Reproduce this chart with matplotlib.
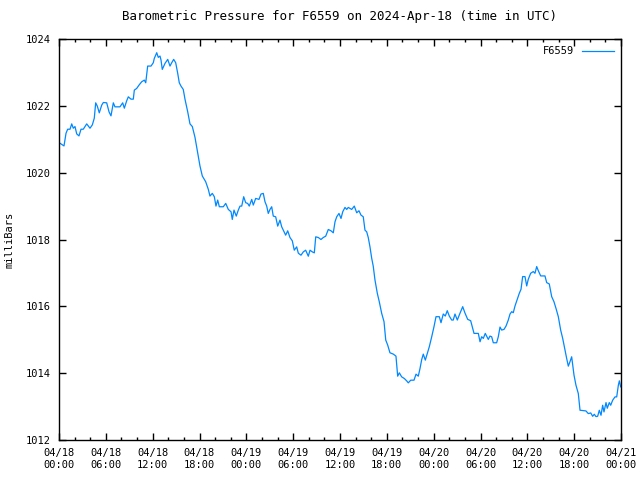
import datetime as dt
import matplotlib
matplotlib.use('Agg')
import matplotlib.pyplot as plt
import matplotlib.dates as mdates

# hours since 2024-04-18 00:00 UTC
hours = [0.13, 0.64, 0.90, 1.11, 1.41, 1.63, 1.83, 2.05, 2.27, 2.56, 2.82, 3.11, 3.55, 3.97,
         4.27, 4.52, 4.70, 4.91, 5.16, 5.47, 5.68, 6.11, 6.41, 6.66, 6.96, 7.17, 7.81, 8.16,
         8.37, 8.67, 8.88, 9.22, 9.52, 9.65, 9.95, 10.25, 10.59, 10.93, 11.11, 11.36, 11.79,
         12.08, 12.21, 12.52, 12.72, 12.94, 13.07, 13.23, 13.58, 13.93, 14.22, 14.44, 14.69,
         14.95, 15.21, 15.41, 15.63, 15.92, 16.14, 16.49, 16.78, 17.08, 17.42, 17.77, 18.06,
         18.36, 18.79, 19.13, 19.34, 19.64, 19.90, 20.11, 20.33, 20.54, 21.05, 21.36, 21.69,
         22.04, 22.20, 22.42, 22.71, 22.97, 23.19, 23.41, 23.66, 23.92, 24.17, 24.38, 24.69,
         24.89, 25.20, 25.62, 25.88, 26.17, 26.39, 26.61, 26.81, 27.03, 27.25, 27.45, 27.76,
         28.02, 28.31, 28.53, 28.74, 29.04, 29.30, 29.59, 29.89, 30.14, 30.45, 30.66, 31.00,
         31.30, 31.60, 31.94, 32.16, 32.45, 32.71, 32.89, 33.22, 33.56, 33.86, 34.17, 34.50,
         34.85, 35.14, 35.36, 35.58, 35.87, 36.13, 36.35, 36.64, 36.86, 37.06, 37.50, 37.83,
         38.14, 38.43, 38.69, 38.98, 39.20, 39.42, 39.62, 39.84, 40.06, 40.26, 40.48, 40.78,
         41.03, 41.34, 41.64, 41.86, 42.11, 42.40, 42.83, 43.17, 43.39, 43.60, 43.90, 44.24,
         44.54, 44.75, 45.06, 45.48, 45.74, 46.03, 46.25, 46.47, 46.67, 46.93, 47.18, 47.44,
         47.75, 48.04, 48.30, 48.72, 48.94, 49.23, 49.49, 49.74, 50.00, 50.31, 50.51, 50.73,
         51.03, 51.28, 51.72, 52.01, 52.36, 52.74, 53.00, 53.17, 53.72, 53.94, 54.15, 54.36,
         54.61, 55.00, 55.21, 55.43, 55.64, 56.07, 56.28, 56.50, 56.71, 57.01, 57.27, 57.56,
         57.78, 58.00, 58.20, 58.42, 58.71, 58.97, 59.19, 59.40, 59.70, 59.92, 60.12, 60.43,
         60.76, 60.98, 61.20, 61.40, 61.71, 62.26, 62.48, 62.81, 63.12, 63.41, 63.67, 63.97,
         64.27, 64.53, 64.82, 65.04, 65.25, 65.46, 65.68, 65.81, 65.98, 66.23, 66.53, 66.75,
         67.51, 67.81, 68.12, 68.37, 68.58, 68.79, 69.01, 69.22, 69.44, 69.65, 69.82, 70.08,
         70.24, 70.50, 70.68, 70.93, 71.23, 71.45, 71.66, 71.79, 71.96]

pressure = [1020.88, 1020.80, 1021.18, 1021.30, 1021.30, 1021.46, 1021.33, 1021.38, 1021.16,
            1021.10, 1021.30, 1021.30, 1021.46, 1021.33, 1021.43, 1021.63, 1022.09, 1021.99,
            1021.79, 1022.02, 1022.10, 1022.09, 1021.82, 1021.70, 1022.09, 1021.97, 1021.97,
            1022.09, 1021.93, 1022.15, 1022.27, 1022.20, 1022.20, 1022.47, 1022.52, 1022.62,
            1022.72, 1022.77, 1022.69, 1023.19, 1023.19, 1023.29, 1023.42, 1023.59, 1023.45,
            1023.49, 1023.37, 1023.09, 1023.27, 1023.39, 1023.19, 1023.29, 1023.39, 1023.29,
            1022.97, 1022.69, 1022.59, 1022.49, 1022.20, 1021.82, 1021.46, 1021.38, 1021.06,
            1020.58, 1020.20, 1019.90, 1019.73, 1019.50, 1019.30, 1019.38, 1019.28, 1019.00,
            1019.18, 1018.98, 1018.98, 1019.08, 1018.90, 1018.83, 1018.60, 1018.88, 1018.70,
            1018.88, 1019.00, 1019.00, 1019.28, 1019.10, 1019.08, 1019.00, 1019.20, 1019.03,
            1019.23, 1019.20, 1019.36, 1019.38, 1019.13, 1019.00, 1018.78, 1018.90, 1018.98,
            1018.70, 1018.68, 1018.40, 1018.58, 1018.38, 1018.28, 1018.13, 1018.26, 1018.06,
            1017.96, 1017.68, 1017.78, 1017.59, 1017.53, 1017.63, 1017.68, 1017.50, 1017.68,
            1017.63, 1017.60, 1018.08, 1018.06, 1018.00, 1018.06, 1018.10, 1018.30, 1018.26,
            1018.20, 1018.53, 1018.68, 1018.78, 1018.63, 1018.83, 1018.96, 1018.90, 1018.96,
            1018.90, 1019.00, 1018.80, 1018.86, 1018.73, 1018.68, 1018.28, 1018.23, 1018.06,
            1017.78, 1017.44, 1017.20, 1016.79, 1016.39, 1016.14, 1015.79, 1015.54, 1014.99,
            1014.84, 1014.61, 1014.57, 1014.51, 1013.91, 1014.01, 1013.89, 1013.84, 1013.77,
            1013.71, 1013.79, 1013.79, 1013.97, 1013.91, 1014.14, 1014.41, 1014.57, 1014.39,
            1014.59, 1014.79, 1015.09, 1015.39, 1015.69, 1015.69, 1015.51, 1015.77, 1015.71,
            1015.87, 1015.71, 1015.59, 1015.59, 1015.77, 1015.59, 1015.74, 1015.99, 1015.80,
            1015.61, 1015.57, 1015.34, 1015.19, 1015.19, 1014.94, 1015.09, 1015.04, 1015.19,
            1015.01, 1015.11, 1015.09, 1014.91, 1014.91, 1015.09, 1015.38, 1015.29, 1015.31,
            1015.41, 1015.59, 1015.77, 1015.84, 1015.81, 1016.01, 1016.21, 1016.39, 1016.51,
            1016.89, 1016.89, 1016.61, 1016.81, 1016.99, 1017.04, 1016.99, 1017.19, 1017.07,
            1016.91, 1016.91, 1016.71, 1016.67, 1016.29, 1016.14, 1015.94, 1015.69, 1015.29,
            1015.04, 1014.69, 1014.44, 1014.21, 1014.34, 1014.49, 1014.24, 1013.94, 1013.64,
            1013.39, 1012.89, 1012.87, 1012.79, 1012.81, 1012.71, 1012.77, 1012.70, 1012.71,
            1012.89, 1012.74, 1013.04, 1012.84, 1013.12, 1012.95, 1013.12, 1013.04, 1013.19,
            1013.29, 1013.29, 1013.64, 1013.77, 1013.59]

start = dt.datetime(2024, 4, 18, 0, 0)
times = [start + dt.timedelta(hours=h) for h in hours]

plt.rcParams['font.family'] = 'DejaVu Sans Mono'
plt.rcParams['font.size'] = 7.5

fig = plt.figure(figsize=(6.4, 4.8), dpi=100)
ax = fig.add_axes([59 / 640, 1 - 440 / 480, 562 / 640, 401 / 480])

ax.plot(times, pressure, color='#0088ff', lw=0.9, label='F6559')

ax.set_xlim(start, start + dt.timedelta(hours=72))
ax.set_ylim(1012, 1024)
ax.set_yticks(range(1012, 1025, 2))

# major ticks every 6 h, minor every 2 h
ax.xaxis.set_major_locator(mdates.HourLocator(byhour=[0, 6, 12, 18]))
ax.xaxis.set_minor_locator(mdates.HourLocator(byhour=range(0, 24, 2)))
ax.xaxis.set_major_formatter(mdates.DateFormatter('%m/%d\n%H:%M'))

ax.tick_params(which='both', direction='in', top=True, right=True, width=1, colors='black')
ax.tick_params(which='major', length=5, pad=6)
ax.tick_params(which='minor', length=2.5)
for s in ax.spines.values():
    s.set_linewidth(1.0)

ax.set_ylabel('milliBars', labelpad=8)
ax.set_title('Barometric Pressure for F6559 on 2024-Apr-18 (time in UTC)', pad=14)

ax.legend(loc='upper right', frameon=False, handlelength=3.0, markerfirst=False,
          borderaxespad=0.3)

fig.savefig('out.png', dpi=100)
